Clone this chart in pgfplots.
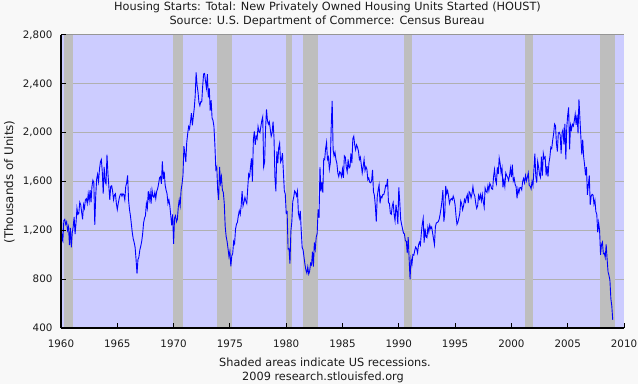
\documentclass[border=0pt]{standalone}
\usepackage{pgfplots}
\pgfplotsset{compat=1.18}
\usepackage{pgfplotstable}
\usepackage{fontspec}
\setmainfont{DejaVu Sans}
\definecolor{bgc}{HTML}{F8F8F8}
\definecolor{lav}{HTML}{CCCCFF}
\definecolor{band}{HTML}{BEBEBE}
\definecolor{gridc}{HTML}{B0B0B0}
\definecolor{txt}{HTML}{1A1A1A}
\definecolor{ln}{HTML}{0000FF}

\pgfplotstableread[row sep=\\]{
v\\
1460\\ 1130\\ 1110\\ 1280\\ 1290\\ 1250\\ 1270\\ 1200\\ 1230\\ 1080\\ 1220\\ 1060\\
1180\\ 1230\\ 1310\\ 1170\\ 1260\\ 1380\\ 1330\\ 1340\\ 1430\\ 1410\\ 1350\\ 1290\\
1410\\ 1380\\ 1450\\ 1460\\ 1420\\ 1500\\ 1440\\ 1530\\ 1430\\ 1560\\ 1610\\ 1590\\
1245\\ 1480\\ 1620\\ 1660\\ 1600\\ 1700\\ 1760\\ 1780\\ 1680\\ 1500\\ 1720\\ 1600\\
1580\\ 1820\\ 1670\\ 1560\\ 1450\\ 1560\\ 1565\\ 1520\\ 1450\\ 1490\\ 1500\\ 1420\\
1370\\ 1420\\ 1460\\ 1490\\ 1500\\ 1480\\ 1500\\ 1490\\ 1450\\ 1560\\ 1590\\ 1650\\
1450\\ 1370\\ 1320\\ 1250\\ 1180\\ 1130\\ 1100\\ 1060\\ 960\\ 845\\ 960\\ 980\\
1040\\ 1070\\ 1110\\ 1170\\ 1260\\ 1300\\ 1320\\ 1420\\ 1380\\ 1520\\ 1450\\ 1510\\
1420\\ 1530\\ 1480\\ 1470\\ 1510\\ 1460\\ 1520\\ 1540\\ 1580\\ 1630\\ 1640\\ 1580\\
1765\\ 1620\\ 1680\\ 1570\\ 1530\\ 1500\\ 1420\\ 1450\\ 1400\\ 1320\\ 1240\\ 1330\\
1090\\ 1300\\ 1320\\ 1270\\ 1290\\ 1390\\ 1450\\ 1400\\ 1530\\ 1580\\ 1650\\ 1890\\
1830\\ 1760\\ 1920\\ 1990\\ 2050\\ 2030\\ 2090\\ 2160\\ 2060\\ 2130\\ 2200\\ 2300\\
2494\\ 2390\\ 2334\\ 2249\\ 2221\\ 2254\\ 2252\\ 2382\\ 2481\\ 2485\\ 2421\\ 2366\\
2480\\ 2290\\ 2365\\ 2180\\ 2266\\ 2120\\ 2100\\ 2050\\ 1900\\ 1700\\ 1720\\ 1530\\
1450\\ 1720\\ 1590\\ 1640\\ 1530\\ 1510\\ 1420\\ 1230\\ 1150\\ 1110\\ 1050\\ 985\\
1030\\ 905\\ 990\\ 1010\\ 1110\\ 1090\\ 1210\\ 1250\\ 1265\\ 1320\\ 1360\\ 1330\\
1400\\ 1520\\ 1400\\ 1430\\ 1470\\ 1440\\ 1420\\ 1545\\ 1660\\ 1640\\ 1720\\ 1790\\
1600\\ 1940\\ 2010\\ 1900\\ 1970\\ 1950\\ 2050\\ 2010\\ 2000\\ 2050\\ 2100\\ 2130\\
1720\\ 1760\\ 2030\\ 2190\\ 2100\\ 2070\\ 2090\\ 2030\\ 1970\\ 2000\\ 2090\\ 1960\\
1630\\ 1520\\ 1847\\ 1748\\ 1876\\ 1913\\ 1760\\ 1778\\ 1832\\ 1681\\ 1524\\ 1498\\
1341\\ 1350\\ 1047\\ 1051\\ 927\\ 1196\\ 1269\\ 1436\\ 1471\\ 1523\\ 1510\\ 1482\\
1520\\ 1340\\ 1300\\ 1360\\ 1200\\ 1060\\ 1040\\ 980\\ 920\\ 875\\ 850\\ 900\\
843\\ 866\\ 931\\ 917\\ 1025\\ 902\\ 1100\\ 1046\\ 1144\\ 1173\\ 1372\\ 1303\\
1718\\ 1519\\ 1592\\ 1509\\ 1785\\ 1779\\ 1870\\ 1920\\ 1780\\ 1800\\ 1700\\ 1750\\
2060\\ 2260\\ 1860\\ 1810\\ 1840\\ 1780\\ 1750\\ 1670\\ 1640\\ 1680\\ 1670\\ 1640\\
1700\\ 1630\\ 1810\\ 1800\\ 1720\\ 1680\\ 1780\\ 1710\\ 1720\\ 1830\\ 1750\\ 1950\\
1970\\ 1900\\ 1860\\ 1900\\ 1880\\ 1850\\ 1780\\ 1800\\ 1740\\ 1670\\ 1720\\ 1780\\
1690\\ 1720\\ 1700\\ 1614\\ 1628\\ 1594\\ 1590\\ 1605\\ 1695\\ 1515\\ 1487\\ 1400\\
1271\\ 1473\\ 1532\\ 1573\\ 1421\\ 1478\\ 1467\\ 1493\\ 1492\\ 1522\\ 1569\\ 1563\\
1621\\ 1425\\ 1422\\ 1339\\ 1331\\ 1397\\ 1427\\ 1332\\ 1279\\ 1410\\ 1351\\ 1251\\
1551\\ 1437\\ 1289\\ 1248\\ 1212\\ 1177\\ 1171\\ 1115\\ 1110\\ 1014\\ 1145\\ 969\\
798\\ 965\\ 921\\ 1001\\ 996\\ 1036\\ 1063\\ 1049\\ 1015\\ 1079\\ 1103\\ 1079\\
1176\\ 1250\\ 1297\\ 1099\\ 1214\\ 1145\\ 1139\\ 1226\\ 1186\\ 1244\\ 1214\\ 1227\\
1180\\ 1130\\ 1083\\ 1230\\ 1260\\ 1265\\ 1270\\ 1290\\ 1330\\ 1380\\ 1440\\ 1530\\
1272\\ 1337\\ 1564\\ 1500\\ 1526\\ 1480\\ 1420\\ 1450\\ 1460\\ 1450\\ 1480\\ 1455\\
1407\\ 1316\\ 1249\\ 1267\\ 1300\\ 1340\\ 1440\\ 1416\\ 1369\\ 1400\\ 1452\\ 1431\\
1467\\ 1491\\ 1424\\ 1516\\ 1504\\ 1467\\ 1500\\ 1557\\ 1500\\ 1480\\ 1420\\ 1380\\
1400\\ 1486\\ 1457\\ 1492\\ 1442\\ 1494\\ 1437\\ 1390\\ 1546\\ 1520\\ 1510\\ 1566\\
1525\\ 1584\\ 1567\\ 1540\\ 1536\\ 1641\\ 1698\\ 1614\\ 1582\\ 1715\\ 1660\\ 1792\\
1748\\ 1670\\ 1710\\ 1553\\ 1611\\ 1559\\ 1669\\ 1648\\ 1635\\ 1608\\ 1648\\ 1708\\
1636\\ 1737\\ 1604\\ 1626\\ 1575\\ 1559\\ 1463\\ 1541\\ 1507\\ 1549\\ 1551\\ 1532\\
1600\\ 1625\\ 1590\\ 1649\\ 1605\\ 1636\\ 1670\\ 1567\\ 1562\\ 1540\\ 1602\\ 1568\\
1698\\ 1829\\ 1642\\ 1592\\ 1764\\ 1717\\ 1655\\ 1633\\ 1804\\ 1648\\ 1830\\ 1788\\
1800\\ 1650\\ 1726\\ 1640\\ 1751\\ 1800\\ 1880\\ 1870\\ 1939\\ 1990\\ 2070\\ 2057\\
1911\\ 1846\\ 1998\\ 2003\\ 1981\\ 1828\\ 2002\\ 2024\\ 1905\\ 2072\\ 1782\\ 2042\\
2144\\ 2207\\ 1864\\ 2061\\ 2025\\ 2068\\ 2054\\ 2095\\ 2151\\ 2065\\ 2147\\ 1994\\
2273\\ 2119\\ 1969\\ 1821\\ 1942\\ 1802\\ 1737\\ 1650\\ 1720\\ 1491\\ 1570\\ 1649\\
1409\\ 1480\\ 1495\\ 1490\\ 1415\\ 1448\\ 1354\\ 1330\\ 1183\\ 1264\\ 1197\\ 1000\\
1084\\ 1103\\ 1008\\ 1013\\ 978\\ 1084\\ 965\\ 860\\ 830\\ 790\\ 640\\ 580\\
466\\
}\housing

\begin{document}
\begin{tikzpicture}[font=\fontsize{10.3bp}{12bp}\selectfont, text=txt]
\useasboundingbox (-61bp,-56bp) rectangle (577bp,328bp);
\fill[bgc] (-61bp,-56bp) rectangle (577bp,328bp);
\begin{axis}[
  at={(0,0)}, anchor=south west,
  scale only axis, width=563bp, height=293bp,
  xmin=1960, xmax=2010, ymin=400, ymax=2800,
  axis on top,
  axis x line=bottom, axis y line=left,
  axis line style={-, black, line width=1.1bp},
  xtick={1960,1965,...,2010}, ytick={400,800,...,2800},
  tick align=inside, major tick length=5bp,
  tick style={black, line width=1bp},
  axis background/.style={fill=lav},
  /pgf/number format/assume math mode=true,
  xticklabel style={anchor=north, inner sep=0pt, yshift=-12bp, /pgf/number format/1000 sep={}},
  yticklabel style={anchor=east, inner sep=0pt, xshift=-8.4bp, /pgf/number format/1000 sep={,}},
  every tick label/.append style={text=txt},
]
% grid lines
\addplot[gridc, line width=1bp, forget plot] coordinates {(1960,800) (2010,800)};
\addplot[gridc, line width=1bp, forget plot] coordinates {(1960,1200) (2010,1200)};
\addplot[gridc, line width=1bp, forget plot] coordinates {(1960,1600) (2010,1600)};
\addplot[gridc, line width=1bp, forget plot] coordinates {(1960,2000) (2010,2000)};
\addplot[gridc, line width=1bp, forget plot] coordinates {(1960,2400) (2010,2400)};
% recessions
\addplot[fill=band, draw=none, forget plot] coordinates {(1960.25,2800) (1961.08,2800)} \closedcycle;
\addplot[fill=band, draw=none, forget plot] coordinates {(1969.92,2800) (1970.83,2800)} \closedcycle;
\addplot[fill=band, draw=none, forget plot] coordinates {(1973.83,2800) (1975.20,2800)} \closedcycle;
\addplot[fill=band, draw=none, forget plot] coordinates {(1980.00,2800) (1980.53,2800)} \closedcycle;
\addplot[fill=band, draw=none, forget plot] coordinates {(1981.45,2800) (1982.83,2800)} \closedcycle;
\addplot[fill=band, draw=none, forget plot] coordinates {(1990.50,2800) (1991.20,2800)} \closedcycle;
\addplot[fill=band, draw=none, forget plot] coordinates {(2001.18,2800) (2001.92,2800)} \closedcycle;
\addplot[fill=band, draw=none, forget plot] coordinates {(2007.90,2800) (2009.22,2800)} \closedcycle;
% top line
\addplot[gridc!85!black, line width=1bp, forget plot] coordinates {(1960,2800) (2010,2800)};
% data
\addplot[ln, line width=0.9bp, line join=miter, mark=none] table[x expr=1960+\coordindex/12, y=v] {\housing};
\end{axis}
\begin{scope}[font=\fontsize{11.3bp}{13bp}\selectfont]
\node[anchor=base] at (266.5bp,317.3bp) {Housing Starts: Total: New Privately Owned Housing Units Started (HOUST)};
\node[anchor=base] at (266bp,303.5bp) {Source: U.S. Department of Commerce: Census Bureau};
\node[anchor=base] at (264bp,-38.7bp) {Shaded areas indicate US recessions.};
\node[anchor=base] at (262bp,-52bp) {2009 research.stlouisfed.org};
\end{scope}
\node[rotate=90, anchor=center, font=\fontsize{11.9bp}{13bp}\selectfont] at (-51.5bp,146bp) {(Thousands of Units)};
\end{tikzpicture}
\end{document}
